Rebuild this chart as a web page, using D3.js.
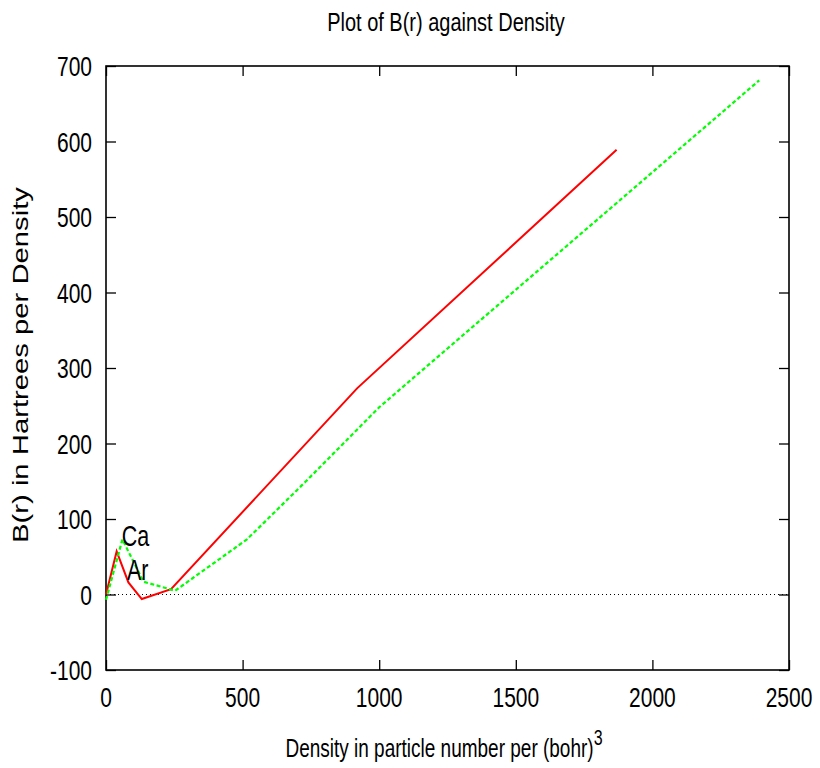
<!DOCTYPE html>
<html>
<head>
<meta charset="utf-8">
<script src="https://cdn.jsdelivr.net/npm/d3@7/dist/d3.min.js"></script>
<style>
  html, body { margin: 0; padding: 0; background: #fff; }
  text { font-family: "Liberation Sans", Arial, sans-serif; fill: #000; }
</style>
</head>
<body>
<svg id="chart" width="820" height="768"></svg>
<script>
// B(r) versus density for argon and calcium
const arDensity = [0, 39, 82, 131, 238, 919, 1869];
const arB       = [0, 57, 16, -6, 7, 273, 589];
const caDensity = [0, 60, 137, 253, 516, 732, 1000, 2391];
const caB       = [-7, 73, 17, 5, 73, 150, 248, 681];

const xTicks = [0, 500, 1000, 1500, 2000, 2500];
const yTicks = [-100, 0, 100, 200, 300, 400, 500, 600, 700];

const seriesLabels = [
  { name: "Ca", x: 58, y: 64 },
  { name: "Ar", x: 77, y: 19 }
];

const svg = d3.select("#chart");
const stretch = 1.33;           // vertical stretch of all lettering
const margin = { left: 106, right: 31, top: 66, bottom: 98 };
const W = 820, H = 768;

const x = d3.scaleLinear().domain([0, 2500]).range([margin.left, W - margin.right]);
const y = d3.scaleLinear().domain([-100, 700]).range([H - margin.bottom, margin.top]);

// text drawn with a vertical stretch around its anchor point
function stretchedText(g, px, py, str, size, anchor) {
  return g.append("text")
    .attr("transform", `translate(${px},${py}) scale(1,${stretch})`)
    .attr("text-anchor", anchor)
    .attr("font-size", size)
    .text(str);
}

// zero line
svg.append("line")
  .attr("x1", x(0)).attr("x2", x(2500))
  .attr("y1", y(0)).attr("y2", y(0))
  .attr("stroke", "#000").attr("stroke-width", 1)
  .attr("stroke-dasharray", "1,3");

// axes with inward ticks, mirrored on top and right
const tickLen = 10;
const axB = svg.append("g").attr("transform", `translate(0,${y(-100)})`)
  .call(d3.axisBottom(x).tickValues(xTicks).tickSizeInner(-tickLen).tickSizeOuter(0).tickFormat(""));
const axT = svg.append("g").attr("transform", `translate(0,${y(700)})`)
  .call(d3.axisTop(x).tickValues(xTicks).tickSizeInner(-tickLen).tickSizeOuter(0).tickFormat(""));
const axL = svg.append("g").attr("transform", `translate(${x(0)},0)`)
  .call(d3.axisLeft(y).tickValues(yTicks).tickSizeInner(-tickLen).tickSizeOuter(0).tickFormat(""));
const axR = svg.append("g").attr("transform", `translate(${x(2500)},0)`)
  .call(d3.axisRight(y).tickValues(yTicks).tickSizeInner(-tickLen).tickSizeOuter(0).tickFormat(""));
[axB, axT, axL, axR].forEach(a => {
  a.select(".domain").remove();
  a.selectAll("line").attr("stroke", "#000").attr("stroke-width", 1.3);
});

// frame
svg.append("rect")
  .attr("x", x(0)).attr("y", y(700))
  .attr("width", x(2500) - x(0)).attr("height", y(-100) - y(700))
  .attr("fill", "none").attr("stroke", "#000").attr("stroke-width", 1.6);

// tick labels
const tg = svg.append("g");
xTicks.forEach(v => stretchedText(tg, x(v), y(-100) + 37, String(v), 21, "middle"));
yTicks.forEach(v => stretchedText(tg, x(0) - 14, y(v) + 10, String(v), 21, "end"));

// series
const line = d3.line().x(d => x(d[0])).y(d => y(d[1]));
const arData = arDensity.map((d, i) => [d, arB[i]]);
const caData = caDensity.map((d, i) => [d, caB[i]]);

svg.append("path").datum(arData).attr("d", line)
  .attr("fill", "none").attr("stroke", "#ff0000").attr("stroke-width", 2);
svg.append("path").datum(caData).attr("d", line)
  .attr("fill", "none").attr("stroke", "#00ff00").attr("stroke-width", 2.2)
  .attr("stroke-dasharray", "4,2.5");

// series labels
seriesLabels.forEach(l => stretchedText(svg, x(l.x), y(l.y), l.name, 21.5, "start"));

// title
stretchedText(svg, 446, 31, "Plot of B(r) against Density", 20, "middle");

// x axis title with superscript
const xt = svg.append("text")
  .attr("transform", `translate(444,757) scale(1,${stretch})`)
  .attr("text-anchor", "middle")
  .attr("font-size", 19);
xt.append("tspan").text("Density in particle number per (bohr)");
xt.append("tspan").attr("dy", -9).attr("font-size", 16).text("3");

// y axis title
svg.append("text")
  .attr("transform", `translate(28,365) rotate(-90) scale(${stretch},1)`)
  .attr("text-anchor", "middle")
  .attr("font-size", 22)
  .text("B(r) in Hartrees per Density");
</script>
</body>
</html>
